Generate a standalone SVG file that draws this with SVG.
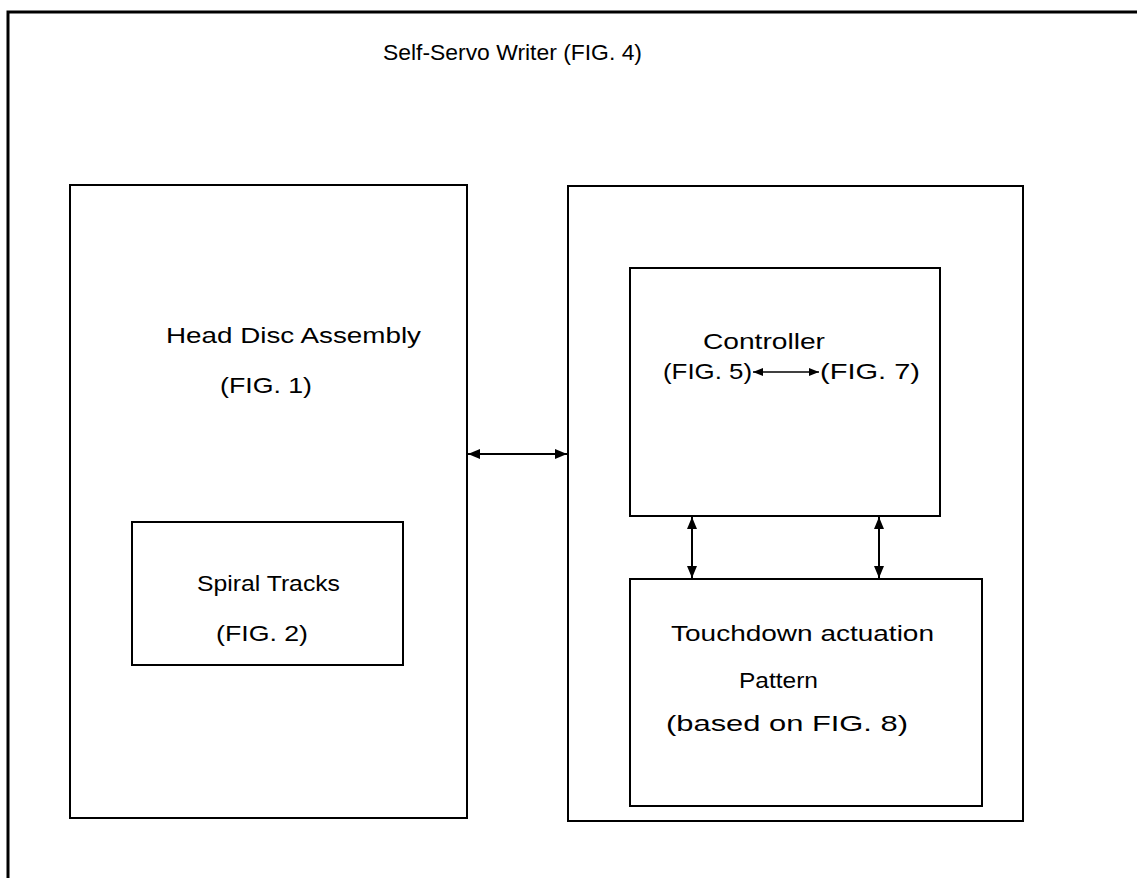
<svg xmlns="http://www.w3.org/2000/svg" width="1137" height="878" viewBox="0 0 1137 878">
<style>
.box{fill:none;stroke:#000;stroke-width:2}
.frame{fill:none;stroke:#000;stroke-width:3}
text{font-family:"Liberation Sans",Arial,sans-serif;font-size:22px;fill:#000}
.con{stroke:#000;stroke-width:2;fill:none;marker-start:url(#ah);marker-end:url(#ah)}
.con2{stroke:#000;stroke-width:1.5;fill:none;marker-start:url(#ahs);marker-end:url(#ahs)}
</style>
<defs>
<marker id="ah" viewBox="0 0 12 10" refX="12" refY="5" markerWidth="12" markerHeight="10" markerUnits="userSpaceOnUse" orient="auto-start-reverse">
<path d="M0,0 L12,5 L0,10 Z" fill="#000"/>
</marker>
<marker id="ahs" viewBox="0 0 10 8" refX="10" refY="4" markerWidth="10" markerHeight="8" markerUnits="userSpaceOnUse" orient="auto-start-reverse">
<path d="M0,0 L10,4 L0,8 Z" fill="#000"/>
</marker>
</defs>
<rect width="1137" height="878" fill="#fff"/>
<g id="frame">
<path class="frame" d="M8,878 L8,12 L1137,12"/>
<text x="383" y="60" textLength="259" lengthAdjust="spacingAndGlyphs">Self-Servo Writer (FIG. 4)</text>
</g>
<g id="hda">
<rect class="box" x="70" y="185" width="397" height="633"/>
<text x="166" y="343" textLength="255" lengthAdjust="spacingAndGlyphs">Head Disc Assembly</text>
<text x="220" y="393" textLength="92" lengthAdjust="spacingAndGlyphs">(FIG. 1)</text>
</g>
<g id="spiral">
<rect class="box" x="132" y="522" width="271" height="143"/>
<text x="197" y="591" textLength="143" lengthAdjust="spacingAndGlyphs">Spiral Tracks</text>
<text x="216" y="641" textLength="92" lengthAdjust="spacingAndGlyphs">(FIG. 2)</text>
</g>
<g id="writer">
<rect class="box" x="568" y="186" width="455" height="635"/>
</g>
<g id="controller">
<rect class="box" x="630" y="268" width="310" height="248"/>
<text x="703" y="349" textLength="122" lengthAdjust="spacingAndGlyphs">Controller</text>
<text x="663" y="379" textLength="89" lengthAdjust="spacingAndGlyphs">(FIG. 5)</text>
<text x="820" y="379" textLength="100" lengthAdjust="spacingAndGlyphs">(FIG. 7)</text>
</g>
<g id="touchdown">
<rect class="box" x="630" y="579" width="352" height="227"/>
<text x="671" y="641" textLength="263" lengthAdjust="spacingAndGlyphs">Touchdown actuation</text>
<text x="739" y="688" textLength="79" lengthAdjust="spacingAndGlyphs">Pattern</text>
<text x="666" y="731" textLength="242" lengthAdjust="spacingAndGlyphs">(based on FIG. 8)</text>
</g>
<g id="connectors">
<line class="con" x1="468" y1="454" x2="567" y2="454"/>
<line class="con" x1="692" y1="517" x2="692" y2="578"/>
<line class="con" x1="879" y1="517" x2="879" y2="578"/>
<line class="con2" x1="753" y1="372" x2="819" y2="372"/>
</g>
</svg>
